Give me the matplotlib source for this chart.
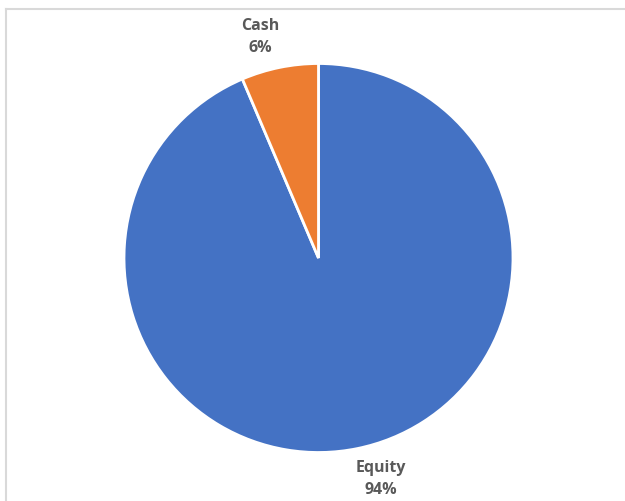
import matplotlib
matplotlib.use("Agg")
import matplotlib.pyplot as plt
from matplotlib.lines import Line2D

categories = ["Equity", "Cash"]
shares = [93.6, 6.4]
colors = ["#4472C4", "#ED7D31"]

W, H = 625, 501
fig = plt.figure(figsize=(W / 100, H / 100), dpi=100)
fig.patch.set_facecolor("white")

# chart-area border (top and left edges visible)
fig.add_artist(Line2D([5.5 / W, 5.5 / W], [0, 1 - 8.5 / H], transform=fig.transFigure,
                      color="#D9D9D9", lw=1.5))
fig.add_artist(Line2D([5.5 / W, 1], [1 - 8.5 / H, 1 - 8.5 / H], transform=fig.transFigure,
                      color="#D9D9D9", lw=1.5))

cx, cy, r = 318.5, 258.0, 194.5
ax = fig.add_axes([(cx - r) / W, (H - cy - r) / H, 2 * r / W, 2 * r / H])

wedges, _ = ax.pie(shares, colors=colors, startangle=90, counterclock=False,
                   radius=1.0, center=(0, 0), frame=True,
                   wedgeprops=dict(edgecolor="white", linewidth=2))
ax.axis("off")
ax.set_aspect("equal")
ax.set_xlim(-1, 1)
ax.set_ylim(-1, 1)

label_pos = {"Cash": (-0.30, 1.135), "Equity": (0.32, -1.135)}
for name, val in zip(categories, shares):
    x, y = label_pos[name]
    ax.text(x, y, f"{name}\n{val:.0f}%", ha="center", va="center",
            fontsize=11.5, fontweight="bold", color="#595959",
            family=["Open Sans", "DejaVu Sans"], linespacing=1.5,
            clip_on=False)

fig.savefig("out.png", dpi=100, facecolor="white")
